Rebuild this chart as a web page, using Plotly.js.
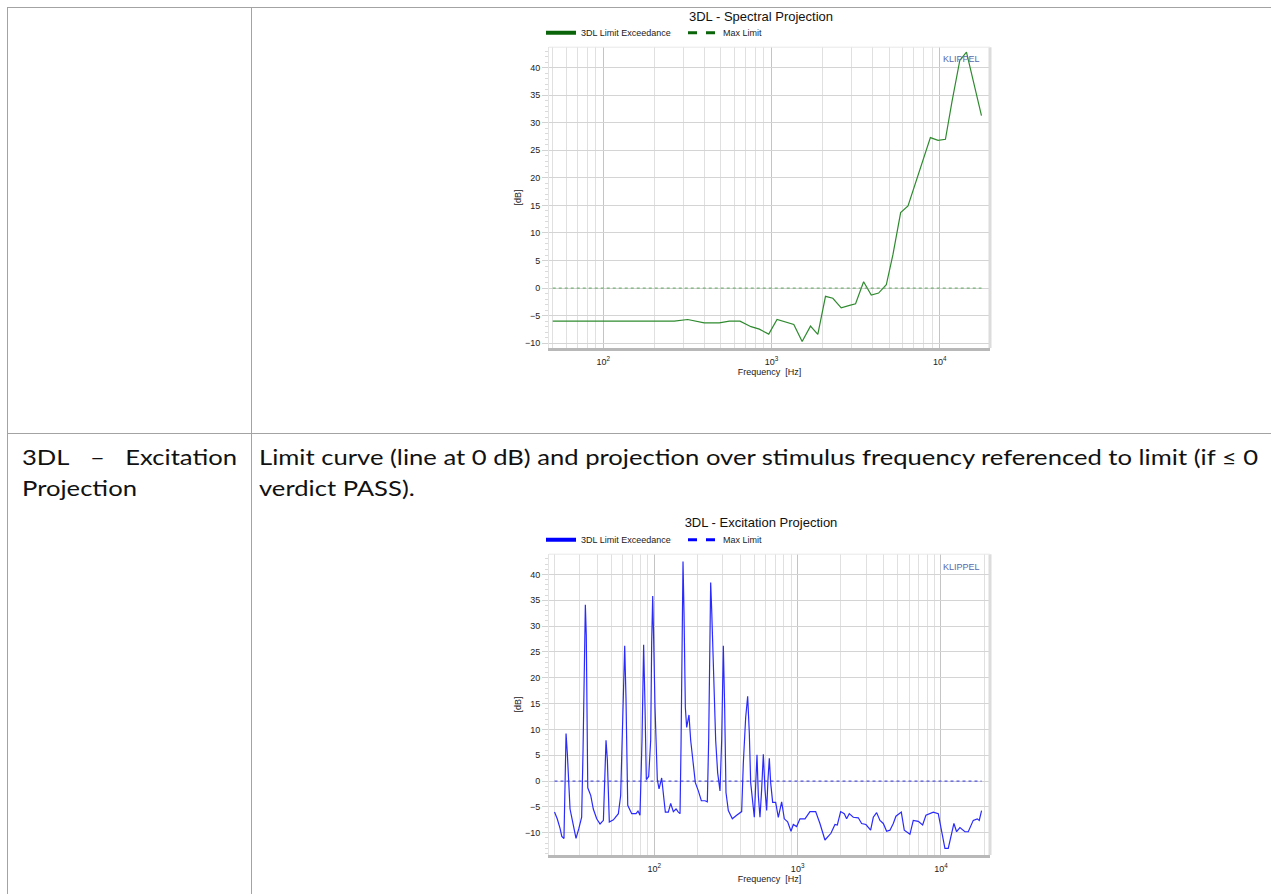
<!DOCTYPE html>
<html><head><meta charset="utf-8">
<script src="https://cdn.plot.ly/plotly-3.0.1.min.js"></script>
<style>
html,body{margin:0;padding:0;background:#fff;width:1271px;height:894px;overflow:hidden;}
body{position:relative;font-family:Lato,'Open Sans',sans-serif;}
.hl{position:absolute;height:1px;background:#a3a3a3;}
.vl{position:absolute;width:1px;background:#a3a3a3;}
#c1{position:absolute;left:500px;top:0;width:500px;height:390px;}
#c2{position:absolute;left:500px;top:505px;width:500px;height:385px;}
.sc{position:absolute;white-space:nowrap;font-size:21px;line-height:21px;color:#111;transform-origin:0 0;}
#lc1{display:flex;justify-content:space-between;}
</style></head>
<body>
<div class="hl" style="left:7px;top:7px;width:1264px;"></div>
<div class="hl" style="left:7px;top:433px;width:1264px;"></div>
<div class="vl" style="left:7px;top:7px;height:887px;"></div>
<div class="vl" style="left:251px;top:7px;height:887px;"></div>

<div class="sc" id="lc1" style="left:22px;top:446px;"><span>3DL</span><span>–</span><span>Excitation</span></div>
<div class="sc" id="lc2" style="left:22px;top:477px;">Projection</div>
<div class="sc" id="r1" style="left:259px;top:446px;">Limit curve (line at 0 dB) and projection over stimulus frequency referenced to limit (if ≤ 0</div>
<div class="sc" id="r2" style="left:259px;top:477px;">verdict PASS).</div>

<div id="c1"></div>
<div id="c2"></div>

<script>
// ---------- data ----------
const specFreq = [50, 264, 317, 339, 398, 489, 561, 649, 755, 846, 962, 1078, 1209, 1356, 1520, 1704, 1884, 2093, 2314, 2595, 2910, 3159, 3526, 3916, 4330, 4811, 5272, 5856, 6477, 7261, 7956, 8799, 9773, 10810, 11840, 13160, 14420, 17710];
const specDb = [-6.0, -6.0, -5.7, -5.85, -6.3, -6.3, -6.0, -6.0, -7.0, -7.45, -8.35, -5.7, -6.15, -6.6, -9.7, -6.9, -8.4, -1.5, -1.85, -3.6, -3.15, -2.85, 1.15, -1.25, -0.9, 0.6, 6.1, 13.7, 14.9, 19.5, 23.5, 27.3, 26.8, 27.0, 33.9, 41.3, 42.8, 31.3];
const specLimitFreq = [50, 17710];
const specLimitDb = [0, 0];

const excFreq = [20.1,21.0,22.0,22.6,23.4,24.2,24.7,25.3,25.8,27.2,28.4,29.7,31.1,31.8,32.5,33.0,33.5,34.3,36.0,37.5,39.6,41.8,44.1,45.3,46.0,47.0,48.5,51.8,56.1,58.2,60.1,62.1,63.4,65.2,69.5,74.5,76.9,79.4,82.0,84.2,86.1,87.9,91.3,94.3,95.8,97.4,98.9,101.1,104.9,107.8,112.5,115.6,119.3,125.2,130.0,135.7,141.7,147.1,151.1,153.5,156.0,158.5,161.1,164.6,168.1,174.5,179.3,185.1,193.2,202.8,212.8,225.7,234.3,239.4,243.3,247.2,251.2,258.0,267.9,276.6,287.2,295.0,303.0,309.5,316.2,328.3,350.1,375.3,406.8,417.8,433.8,448.0,460.1,470.1,485.3,498.5,509.3,520.4,531.6,546.0,560.9,576.2,591.8,607.8,621.0,634.4,648.2,669.4,702.3,733.1,773.5,807.2,851.7,898.6,932.9,984,1038,1125,1219,1336,1431,1551,1708,1822,1891,1995,2116,2197,2293,2445,2650,2796,2996,3231,3373,3558,3754,3960,4178,4409,4650,4853,5289,5550,6077,6412,6950,7451,7859,8843,9581,10109,10663,11250,11867,12321,12861,13571,14706,15512,16811,17926,18510,19213];
const excDb = [-6.0,-7.3,-9.2,-10.7,-11.1,9.2,5.4,-2.8,-5.4,-8.5,-11.1,-9.2,-7.0,6.0,29.4,34.1,28.1,-1.3,-2.8,-5.4,-7.3,-8.3,-7.6,2.2,7.9,4.1,-7.9,-7.5,-6.3,-2.8,14.2,26.2,16.1,-4.7,-6.3,-6.3,-5.8,-6.6,7.9,26.4,14.2,0.3,0.9,7.9,26.9,35.8,27.5,14.2,0.3,-1.5,0.6,-2.2,-6.0,-6.0,-4.3,-5.9,-5.4,-6.0,-6.3,6.6,31.3,42.5,32.5,14.2,10.4,12.8,7.9,4.1,-0.3,-1.9,-3.8,-3.8,-4.0,7.9,21.8,38.4,33.2,20.5,7.9,1.6,-1.9,7.9,26.2,14.2,-2.2,-5.7,-7.3,-6.6,-5.9,3.5,12.3,16.4,9.2,-0.3,-4.1,-7.0,-0.9,5.1,-2.8,-7.0,-1.6,5.2,-1.6,-5.7,0.3,4.4,-0.3,-4.1,-4.1,-7.0,-4.0,-7.3,-7.9,-9.7,-8.4,-8.8,-7.3,-7.3,-5.9,-5.9,-8.2,-11.4,-10.1,-8.4,-8.5,-5.9,-6.3,-7.3,-6.3,-7.0,-7.1,-8.2,-8.4,-9.5,-7.0,-6.1,-7.6,-8.2,-9.7,-9.5,-8.2,-6.8,-6.0,-9.5,-10.3,-7.6,-7.8,-8.5,-6.6,-6.0,-6.3,-9.8,-13.0,-13.0,-9.8,-8.2,-9.8,-9.0,-9.8,-9.8,-7.6,-7.3,-7.6,-5.7];
const excLimitFreq = [20.1, 19213];
const excLimitDb = [0, 0];

const decadeTicks = [100, 1000, 10000];
const decadeLabels = ['10<sup>2</sup>', '10<sup>3</sup>', '10<sup>4</sup>'];
const minorGridFreq = [20,30,40,50,60,70,80,90,200,300,400,500,600,700,800,900,2000,3000,4000,5000,6000,7000,8000,9000,20000];
const legendNames = ['3DL Limit Exceedance', 'Max Limit'];
const titles = ['3DL - Spectral Projection', '3DL - Excitation Projection'];

// ---------- text fitting ----------
const r1 = document.getElementById('r1');
const s = 999 / r1.getBoundingClientRect().width;
document.querySelectorAll('.sc').forEach(e => e.style.transform = 'scaleX(' + s + ')');
document.getElementById('lc1').style.width = (215 / s) + 'px';

// ---------- charts ----------
const F = 'Liberation Sans, Arial, sans-serif';
function build(id, o) {
  const traces = [
    {x:o.fx, y:o.db, type:'scatter', mode:'lines', line:{color:o.lineColor, width:1.2}, showlegend:false},
    {x:o.lx, y:o.ly, type:'scatter', mode:'lines', line:{color:o.limColor, width:1, dash:'dot'}, showlegend:false},
    {x:[null], y:[null], type:'scatter', mode:'lines', name:legendNames[0], line:{color:o.legColor, width:4}},
    {x:[null], y:[null], type:'scatter', mode:'lines', name:legendNames[1], line:{color:o.legColor, width:3, dash:'dash'}}
  ];
  const layout = {
    width:500, height:o.h, margin:{l:49, r:10, t:o.t, b:o.b, pad:0},
    paper_bgcolor:'rgba(0,0,0,0)', plot_bgcolor:'#ffffff',
    title:{text:o.title, font:{family:F, size:13, color:'#111'}, x:261/500, xref:'container', xanchor:'center',
           y:1 - o.titleY/o.h, yref:'container', yanchor:'middle'},
    showlegend:true,
    legend:{orientation:'h', x:41/500, xref:'container', y:1 - o.legY/o.h, yref:'container', xanchor:'left', yanchor:'middle',
            font:{family:F, size:9, color:'#222'}, itemwidth:30, entrywidth:97, entrywidthmode:'pixels',
            bgcolor:'rgba(0,0,0,0)', borderwidth:0, traceorder:'normal'},
    xaxis:{type:'log', range:o.xr, tickmode:'array', tickvals:decadeTicks, ticktext:decadeLabels, ticks:'',
           ticklabelstandoff:3,
           showgrid:true, gridcolor:'#c4c4c4', gridwidth:1, zeroline:false,
           showline:true, linecolor:'#b8b8b8', linewidth:3,
           tickfont:{family:F, size:9, color:'#222'},
           title:{text:'Frequency\u00a0 [Hz]', font:{family:F, size:9, color:'#222'}, standoff:2},
           minor:{tickmode:'array', tickvals:minorGridFreq, showgrid:true, gridcolor:'#e0e0e0', gridwidth:1, ticks:''}},
    yaxis:{range:o.yr, tick0:0, dtick:5, ticks:'outside', ticklen:6, tickcolor:'#d2d2d2',
           showgrid:true, gridcolor:'#d4d4d4', zeroline:false,
           showline:true, linecolor:'#e4e4e4', linewidth:1,
           tickfont:{family:F, size:9, color:'#222'},
           title:{text:'[dB]', font:{family:F, size:9, color:'#222'}},
           minor:{dtick:1, ticks:'outside', ticklen:3, tickcolor:'#dadada', showgrid:false}},
    annotations:[{text:'KLIPPEL', xref:'paper', yref:'paper', x:o.kx, y:o.ky, xanchor:'right', yanchor:'middle',
                  showarrow:false, font:{family:F, size:9, color:'#5a68aa'}}],
    shapes:[
      {type:'line', xref:'paper', yref:'paper', x0:1, x1:1, y0:0, y1:1, line:{color:'#dcdcdc', width:3}},
      {type:'line', xref:'paper', yref:'paper', x0:0, x1:1, y0:1, y1:1, line:{color:'#e8e8e8', width:1}}
    ]
  };
  Plotly.newPlot(id, traces, layout, {staticPlot:true, displayModeBar:false});
}

build('c1', {fx:specFreq, db:specDb, lx:specLimitFreq, ly:specLimitDb,
  lineColor:'#2f8a2f', limColor:'#5aa85a', legColor:'#0a640a',
  h:390, t:43, b:42, title:titles[0], titleY:16, legY:32.7,
  xr:[Math.log10(47.5), Math.log10(19900)], yr:[-10.87, 43.7], kx:0.982, ky:0.96});

build('c2', {fx:excFreq, db:excDb, lx:excLimitFreq, ly:excLimitDb,
  lineColor:'#2a2aff', limColor:'#3030dd', legColor:'#0000ff',
  h:385, t:44, b:35, title:titles[1], titleY:17.3, legY:34.7,
  xr:[Math.log10(18.4), Math.log10(22000)], yr:[-14.3, 43.9], kx:0.982, ky:0.9575});
</script>
</body></html>
